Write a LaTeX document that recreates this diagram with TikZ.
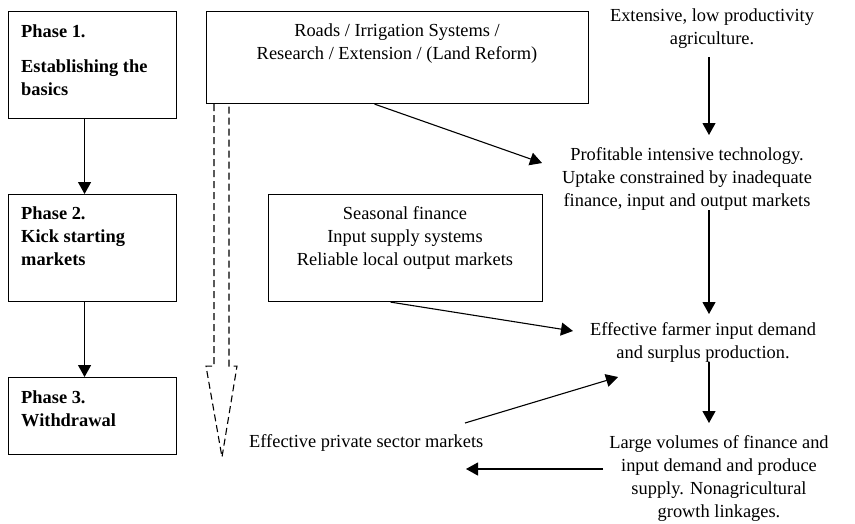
\documentclass[tikz,border=0pt]{standalone}
\usepackage{fontspec}
\setmainfont{Liberation Serif}
\usetikzlibrary{arrows.meta}
\begin{document}
\begin{tikzpicture}[x=1pt,y=-1pt,
  box/.style={draw, line width=1.1pt, inner sep=0, anchor=north west},
  txt/.style={inner sep=0, font=\fontsize{18.4}{23}\selectfont},
  arr/.style={line width=1.1pt, -{Triangle[width=13pt,length=12pt]}},
  dsh/.style={line width=1.1pt, dash pattern=on 7pt off 4pt, line join=miter}]
\useasboundingbox (0,0) rectangle (855,523);
% phase boxes
\node[box, minimum width=168pt, minimum height=107pt] (p1) at (8,11) {};
\node[box, minimum width=168pt, minimum height=107pt] (p2) at (8,194) {};
\node[box, minimum width=168pt, minimum height=77pt] (p3) at (8,377) {};
\node[txt, anchor=base west] (p1t) at (21,37) {\bfseries\begin{tabular}[t]{@{}l@{}}Phase 1.\\[12pt] Establishing the\\ basics\end{tabular}};
\node[txt, anchor=base west] (p2t) at (21,219) {\bfseries\begin{tabular}[t]{@{}l@{}}Phase 2.\\ Kick starting\\ markets\end{tabular}};
\node[txt, anchor=base west] (p3t) at (21,403) {\bfseries\begin{tabular}[t]{@{}l@{}}Phase 3.\\ Withdrawal\end{tabular}};
% intervention boxes
\node[box, minimum width=382pt, minimum height=92pt] (roads) at (206,11) {};
\node[txt, anchor=base] (roadst) at (397,36) {\begin{tabular}[t]{@{}c@{}}Roads / Irrigation Systems /\\ Research / Extension / (Land Reform)\end{tabular}};
\node[box, minimum width=274pt, minimum height=107pt] (seas) at (268,194) {};
\node[txt, anchor=base] (seast) at (405,219) {\begin{tabular}[t]{@{}c@{}}Seasonal finance\\ Input supply systems\\ Reliable local output markets\end{tabular}};
% right column texts
\node[txt, anchor=base] (ext) at (712,21) {\begin{tabular}[t]{@{}c@{}}Extensive, low productivity\\ agriculture.\end{tabular}};
\node[txt, anchor=base] (prof) at (687,160) {\begin{tabular}[t]{@{}c@{}}Profitable intensive technology.\\ Uptake constrained by inadequate\\ finance, input and output markets\end{tabular}};
\node[txt, anchor=base] (eff) at (703,335) {\begin{tabular}[t]{@{}c@{}}Effective farmer input demand\\ and surplus production.\end{tabular}};
\node[txt, anchor=base] (large) at (719,448) {\begin{tabular}[t]{@{}c@{}}Large volumes of finance and\\ input demand and produce\\ supply. Nonagricultural\\ growth linkages.\end{tabular}};
\node[txt, anchor=base west] (priv) at (249,447) {Effective private sector markets};
% phase arrows
\draw[arr] ([xshift=-8pt]p1.south) -- ([xshift=-8pt]p2.north);
\draw[arr] ([xshift=-8pt]p2.south) -- ([xshift=-8pt]p3.north);
% dashed withdrawal arrow
\draw[dsh] ([xshift=8pt]roads.south west) -- ++(0,262) -- ++(-8,0) -- ++(16,91) -- ++(15,-91) -- ++(-8,0) -- ([xshift=23pt]roads.south west);
% flow arrows
\draw[arr] ([xshift=-23pt]roads.south) -- ([shift={(-145,3)}]prof.base);
\draw[arr] ([shift={(-3,36)}]ext.base) -- ([shift={(22,-25)}]prof.base);
\draw[arr] ([shift={(22,50)}]prof.base) -- ([shift={(6,-21)}]eff.base);
\draw[arr] ([xshift=-15pt]seas.south) -- ([shift={(-130,-4)}]eff.base);
\draw[arr] ([shift={(6,27)}]eff.base) -- ([shift={(-10,-25)}]large.base);
\draw[arr] ([shift={(216,-24)}]priv.base west) -- ([shift={(-85,42)}]eff.base);
\draw[arr] ([shift={(-116,21)}]large.base) -- ([shift={(217,22)}]priv.base west);
\end{tikzpicture}
\end{document}
